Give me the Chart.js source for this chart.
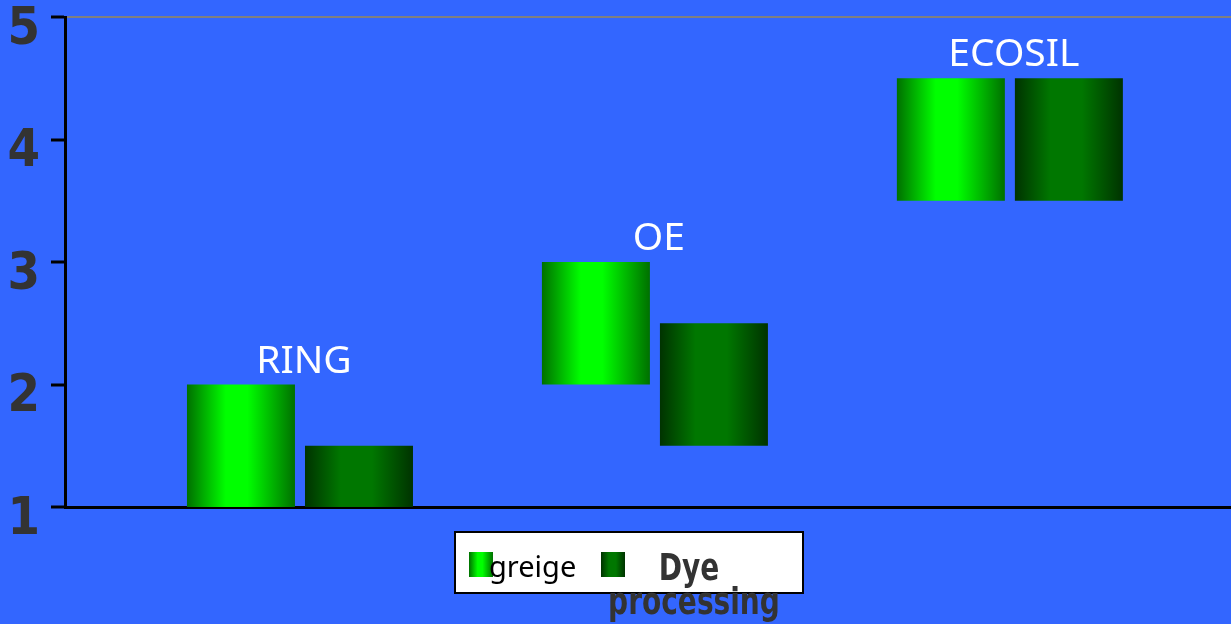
<!DOCTYPE html>
<html>
<head>
<meta charset="utf-8">
<script src="https://cdn.jsdelivr.net/npm/chart.js@4.4.1/dist/chart.umd.min.js"></script>
<style>
  html, body { margin: 0; padding: 0; background: #3366ff; }
  #wrap { width: 1231px; height: 624px; }
</style>
</head>
<body>
<div id="wrap"><canvas id="grafico"></canvas></div>
<script>
const categories = ['RING', 'OE', 'ECOSIL'];
const seriesNames = ['greige', 'Dye processing'];
const greigeRanges = [[1, 2], [2, 3], [3.5, 4.5]];
const dyeRanges = [[1, 1.5], [1.5, 2.5], [3.5, 4.5]];

// horizontal shading of the bars (offset, colour)
const greigeStops = [[0, '#007000'], [0.36, '#00ff00'], [0.56, '#00ff00'], [1, '#007000']];
const dyeStops = [[0, '#003300'], [0.33, '#007700'], [0.62, '#007700'], [1, '#003300']];

const narrowFont = "'Liberation Sans Narrow', 'DejaVu Sans Condensed', 'DejaVu Sans', sans-serif";

function makeGradient(ctx, x0, x1, stops) {
  const g = ctx.createLinearGradient(x0, 0, x1, 0);
  stops.forEach(([o, c]) => g.addColorStop(o, c));
  return g;
}

// each bar gets its own gradient, based on where the scale put it
const gradientBars = {
  id: 'gradientBars',
  beforeDatasetDraw(chart, args) {
    const stops = chart.data.datasets[args.index].stops;
    args.meta.data.forEach(el => {
      const half = el.width / 2;
      el.options = Object.assign({}, el.options, {
        backgroundColor: makeGradient(chart.ctx, el.x - half, el.x + half, stops)
      });
    });
  }
};

// category names written above each group
const categoryLabels = {
  id: 'categoryLabels',
  afterDatasetsDraw(chart) {
    const { ctx, scales: { x, y } } = chart;
    const sets = chart.data.datasets;
    ctx.save();
    ctx.font = "39px 'Noto Sans', sans-serif";
    ctx.fillStyle = '#fff';
    ctx.textAlign = 'center';
    ctx.textBaseline = 'alphabetic';
    categories.forEach((name, i) => {
      const top = Math.max(...sets.map(ds => ds.data[i].y[1]));
      ctx.fillText(name, x.getPixelForValue(i) + 4, y.getPixelForValue(top) - 12);
    });
    ctx.restore();
  }
};

// narrow text: squeeze the font sideways, the narrow face is not installed
function narrowText(ctx, text, cx, baseline, squeeze) {
  ctx.save();
  ctx.translate(cx, baseline);
  ctx.scale(squeeze, 1);
  ctx.fillText(text, 0, 0);
  ctx.restore();
}

// boxed legend under the axis, like the original
const boxLegend = {
  id: 'boxLegend',
  afterDraw(chart) {
    const ctx = chart.ctx;
    const ds = chart.data.datasets;
    const top = chart.chartArea.bottom + 25;
    const left = 455, w = 348, h = 61;
    ctx.save();
    ctx.fillStyle = '#fff';
    ctx.fillRect(left, top, w, h);
    ctx.lineWidth = 2;
    ctx.strokeStyle = '#000';
    ctx.strokeRect(left, top, w, h);

    ctx.fillStyle = makeGradient(ctx, 469, 493, ds[0].stops);
    ctx.fillRect(469, top + 20, 24, 25);
    ctx.font = "29px 'Noto Sans', sans-serif";
    ctx.fillStyle = '#000';
    ctx.textAlign = 'left';
    ctx.textBaseline = 'alphabetic';
    ctx.fillText(ds[0].label, 489, top + 45);

    ctx.fillStyle = makeGradient(ctx, 601, 625, ds[1].stops);
    ctx.fillRect(601, top + 20, 24, 25);
    ctx.font = 'bold 38px ' + narrowFont;
    ctx.fillStyle = '#333';
    ctx.textAlign = 'center';
    const lines = ds[1].label.split(' ');
    narrowText(ctx, lines[0], 689, top + 48, 0.82);
    narrowText(ctx, lines[1], 694, top + 82, 0.82);
    ctx.restore();
  }
};

new Chart(document.getElementById('grafico'), {
  type: 'bar',
  data: {
    datasets: [
      {
        label: seriesNames[0],
        data: greigeRanges.map((r, i) => ({ x: i, y: r })),
        stops: greigeStops,
        backgroundColor: '#00ff00'
      },
      {
        label: seriesNames[1],
        data: dyeRanges.map((r, i) => ({ x: i, y: r })),
        stops: dyeStops,
        backgroundColor: '#007700'
      }
    ]
  },
  options: {
    responsive: true,
    maintainAspectRatio: false,
    animation: false,
    datasets: { bar: { categoryPercentage: 0.665, barPercentage: 0.915 } },
    layout: { padding: { top: 17, right: 0, left: 0, bottom: 0 } },
    plugins: { legend: { display: false }, tooltip: { enabled: false } },
    scales: {
      x: {
        type: 'linear',
        offset: false,
        min: -0.662,
        max: 2.623,
        grid: { display: false },
        border: { display: true, color: '#000', width: 3 },
        ticks: { display: false, stepSize: 1, includeBounds: false },
        afterFit: s => { s.height = 117; s.paddingLeft = 0; s.paddingRight = 0; }
      },
      y: {
        min: 1,
        max: 5,
        ticks: {
          stepSize: 1,
          color: '#333',
          font: { family: narrowFont, size: 52, weight: 'bold' },
          padding: 11,
          labelOffset: 13
        },
        grid: {
          color: c => (c.tick && c.tick.value === 5 ? '#808080' : 'rgba(0,0,0,0)'),
          lineWidth: 2,
          tickColor: '#000',
          tickWidth: 3,
          tickLength: 14
        },
        border: { color: '#000', width: 3 },
        afterFit: s => { s.width = 65; s.paddingTop = 0; s.paddingBottom = 0; }
      }
    }
  },
  plugins: [gradientBars, categoryLabels, boxLegend]
});
</script>
</body>
</html>
